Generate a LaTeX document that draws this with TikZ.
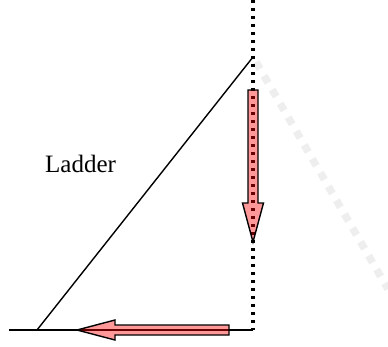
\documentclass[tikz,border=0pt]{standalone}
\usepackage{fontspec}
\setmainfont{Liberation Serif}
\usepackage{tikz}

\begin{document}
\begin{tikzpicture}[
  x=1pt, y=-1pt,
  solid line/.style={line width=1.4pt, black},
  wall/.style={line width=3.3pt, dash pattern=on 3.3pt off 4.7pt},
  shadow/.style={line width=7.5pt, gray!13, dash pattern=on 8pt off 8pt},
  fat arrow/.style={draw, line width=1.4pt, fill=red, fill opacity=0.4,
    line join=miter},
  lab/.style={font=\fontsize{25}{28}\selectfont, inner sep=0pt, anchor=base west}
]
  \useasboundingbox (0,0) rectangle (388,346);

  \coordinate (walltop) at (253,0);
  \coordinate (corner) at (253,330);
  \coordinate (floorend) at (9,330);
  \coordinate (foot) at (37,330);
  \coordinate (top) at (253,57);
  \coordinate (shadowstart) at (256,62);
  \coordinate (shadowend) at (388,289);

  \draw[solid line] (floorend) -- (corner);
  \draw[solid line] (foot) -- (top);
  \draw[shadow] (shadowstart) -- (shadowend);
  \draw[wall] (walltop) -- (corner);

  \node[lab] (ladder) at (45,172) {Ladder};

  % sliding of the top
  \draw[fat arrow] (248,90) -- (258,90) -- (258,203) -- (263.5,203)
    -- (253,242) -- (242.5,203) -- (248,203) -- cycle;
  % sliding of the foot
  \draw[fat arrow] (229,325) -- (229,335) -- (115,335) -- (115,340)
    -- (77,330) -- (115,320) -- (115,325) -- cycle;
\end{tikzpicture}
\end{document}
